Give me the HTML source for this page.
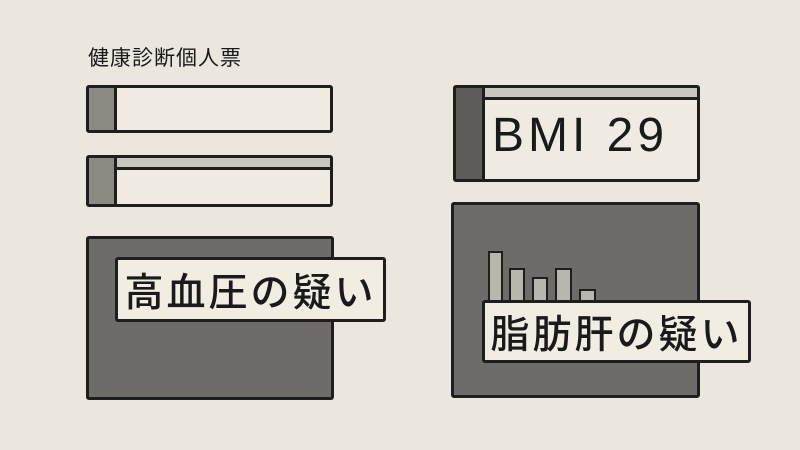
<!DOCTYPE html><html><head><meta charset="utf-8"><style>
body{margin:0;width:800px;height:450px;background:#ebe7de;overflow:hidden;position:relative;font-family:"Liberation Sans","Noto Sans CJK JP",sans-serif;color:#1a1a1a}
div{position:absolute;box-sizing:border-box}
.b{border:3px solid #1e1e1e;border-radius:3px}
.lab{background:#f1ede3;border:3px solid #1e1e1e;border-radius:3px;font-size:39px;font-weight:500;display:flex;align-items:center;justify-content:center;letter-spacing:3px}
.bar{background:#b9b6ae;border:2px solid #1e1e1e;border-bottom:none}
</style></head><body>
<div style="left:88px;top:42px;font-size:21px;letter-spacing:1px">健康診断個人票</div>
<div class="b" style="left:86px;top:85px;width:247px;height:48px;background:#efebe2"><div style="left:0;top:0;width:28px;height:100%;background:#8d8a84;border-right:3px solid #1e1e1e"></div></div>
<div class="b" style="left:86px;top:155px;width:247px;height:52px;background:#efebe2"><div style="left:0;top:0;width:100%;height:12px;background:#c9c6bd;border-bottom:3px solid #1e1e1e"></div><div style="left:0;top:0;width:28px;height:100%;background:#8d8a84;border-right:3px solid #1e1e1e"></div></div>
<div class="b" style="left:86px;top:236px;width:248px;height:164px;background:#6e6c69"></div>
<div class="lab" style="left:115px;top:257px;width:271px;height:65px">高血圧の疑い</div>
<div class="b" style="left:453px;top:85px;width:247px;height:97px;background:#efebe2"><div style="left:0;top:0;width:100%;height:12px;background:#c9c6bd;border-bottom:3px solid #1e1e1e"></div><div style="left:0;top:0;width:29px;height:100%;background:#5e5c59;border-right:3px solid #1e1e1e"></div><div style="left:36px;top:20px;font-size:48px;letter-spacing:4px">BMI 29</div></div>
<div class="b" style="left:451px;top:202px;width:249px;height:196px;background:#6e6c69"></div>
<div class="bar" style="left:488px;top:251px;width:15px;height:50px"></div>
<div class="bar" style="left:509px;top:268px;width:16px;height:33px"></div>
<div class="bar" style="left:532px;top:277px;width:16px;height:24px"></div>
<div class="bar" style="left:555px;top:268px;width:17px;height:33px"></div>
<div class="bar" style="left:579px;top:289px;width:17px;height:12px"></div>
<div class="lab" style="left:482px;top:300px;width:269px;height:63px">脂肪肝の疑い</div>
</body></html>
